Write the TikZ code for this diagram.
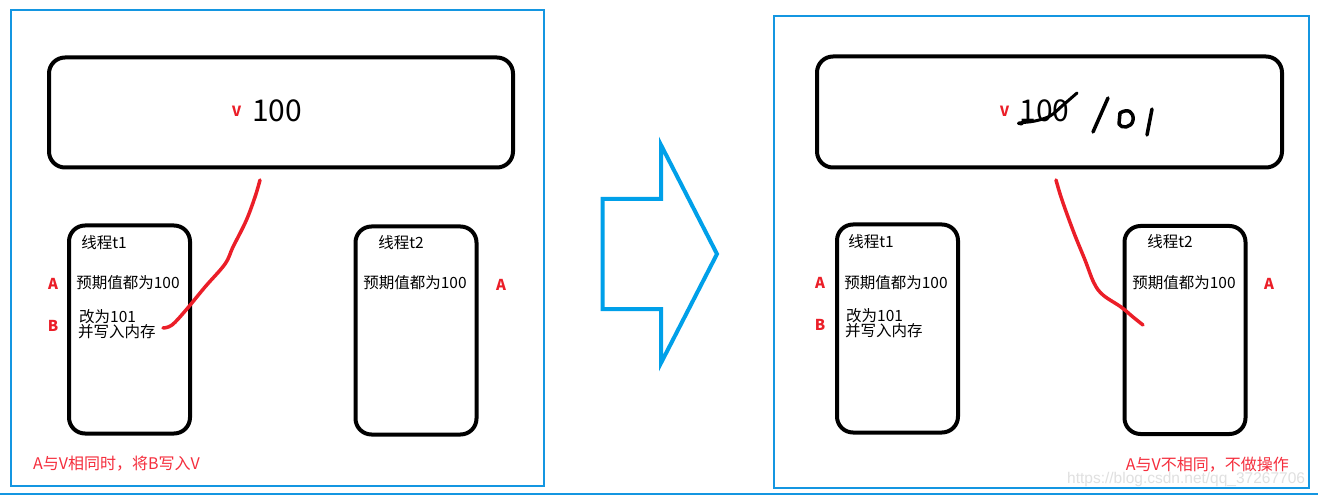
\documentclass[tikz,border=0pt]{standalone}
\usepackage{fontspec}
\setmainfont{Noto Sans CJK SC}
\newfontfamily\wmfont{Liberation Sans}
\definecolor{frameblue}{RGB}{20,150,225}
\definecolor{arrowblue}{RGB}{0,160,233}
\definecolor{inkred}{RGB}{235,30,40}
\definecolor{textred}{RGB}{245,45,60}
\begin{document}
\begin{tikzpicture}[x=1pt,y=-1pt,
  frame/.style={draw=frameblue,line width=1.2pt},
  bigbox/.style={draw=black,line width=4pt,rounded corners=16pt,inner sep=0pt,minimum width=464pt,minimum height=110pt},
  thbox/.style={draw=black,line width=4pt,rounded corners=16pt,inner sep=0pt,minimum width=121pt,minimum height=208pt},
  txt/.style={inner sep=0pt,font=\fontsize{15.5}{17}\selectfont},
  redlbl/.style={inner sep=0pt,text=inkred,font=\fontsize{15}{17}\selectfont\bfseries},
  vlbl/.style={inner sep=0pt,text=inkred,font=\fontsize{14}{16}\selectfont\bfseries},
  num/.style={inner sep=0pt,font=\fontsize{30}{34}\selectfont},
  note/.style={inner sep=0pt,text=textred,font=\fontsize{16}{18}\selectfont},
  ink/.style={draw=inkred,line width=3.5pt,line cap=round,line join=round},
  pen/.style={draw=black,line width=3.5pt,line cap=round,line join=round}]
\useasboundingbox (0,0) rectangle (1318,497);
\fill[white] (0,0) rectangle (1318,497);

% frames
\draw[frame] (11,10) rectangle (544,486);
\draw[frame] (774,16) rectangle (1309,488);
\draw[draw=frameblue,line width=2pt] (0,493.5) -- (1318,493.5);

% ---------- left panel ----------
\node[bigbox] (Lv) at (281,112.5) {};
\node[vlbl] (Lvl) at (236.5,111.5) {V};
\node[num] (Lvn) at (277,111) {100};
\node[thbox] (Lt1) at (129.5,329.5) {};
\node[thbox] (Lt2) at (416,330.5) {};
\node[txt] (Lt1a) at (104,243) {线程t1};
\node[txt] (Lt1b) at (128,283) {预期值都为100};
\node[txt,anchor=west] (Lt1c) at (79,317) {改为101};
\node[txt,anchor=west] (Lt1d) at (78,332) {并写入内存};
\node[redlbl] (LA) at (53,284) {A};
\node[redlbl] (LB) at (53,326) {B};
\node[txt] (Lt2a) at (401,243) {线程t2};
\node[txt] (Lt2b) at (415,283) {预期值都为100};
\node[redlbl] (LA2) at (501,285) {A};
\node[note,anchor=west] (Lnote) at (33,463.5) {A与V相同时，将B写入V};
\draw[ink] plot[smooth,tension=0.6] coordinates {(260,180) (255,197) (246,221) (233,247) (225,264) (205,287) (186,310) (172,325) (163,328)};

% ---------- arrow ----------
\draw[draw=arrowblue,line width=4pt,line join=miter] (602.5,199) -- (661,199) -- (661,145) -- (717,254) -- (661,363) -- (661,309) -- (602.5,309) -- cycle;

% ---------- right panel ----------
\node[bigbox,minimum width=465pt,minimum height=111pt] (Rv) at (1049.5,112) {};
\node[vlbl] (Rvl) at (1004.5,111.5) {V};
\node[num] (Rvn) at (1044.5,111) {100};
\draw[pen,line width=3pt] plot[smooth,tension=0.6] coordinates {(1022,124) (1019,123) (1035,121) (1050,116) (1062,106) (1077,93)};
\draw[pen] (1093,132) -- (1108,98);
\draw[pen] (1120,113) .. controls (1128,108) and (1134,112) .. (1133,120) .. controls (1132,128) and (1121,129) .. (1119,124) -- cycle;
\draw[pen] (1152,109) -- (1147,135);
\node[thbox] (Rt1) at (897.5,328.5) {};
\node[thbox] (Rt2) at (1185,330) {};
\node[txt] (Rt1a) at (871,242) {线程t1};
\node[txt] (Rt1b) at (896,283) {预期值都为100};
\node[txt,anchor=west] (Rt1c) at (846,316) {改为101};
\node[txt,anchor=west] (Rt1d) at (845,331) {并写入内存};
\node[redlbl] (RA) at (820,283) {A};
\node[redlbl] (RB) at (820,325) {B};
\node[txt] (Rt2a) at (1170,242) {线程t2};
\node[txt] (Rt2b) at (1184,283) {预期值都为100};
\node[redlbl] (RA2) at (1269,284) {A};
\node[note,anchor=east] (Rnote) at (1289,464.5) {A与V不相同，不做操作};
\draw[ink] plot[smooth,tension=0.6] coordinates {(1056,180) (1062,200) (1074,233) (1085,260) (1094,283) (1103,295) (1121,307) (1133,317) (1143,325)};

% watermark
\begin{scope}
\clip (774,466) rectangle (1309,487);
\node[inner sep=0pt,anchor=west,text=black!12,font=\wmfont\fontsize{15.5}{18}\selectfont] (wm) at (1067,479) {https://blog.csdn.net/qq\_37267706};
\end{scope}
\end{tikzpicture}
\end{document}
